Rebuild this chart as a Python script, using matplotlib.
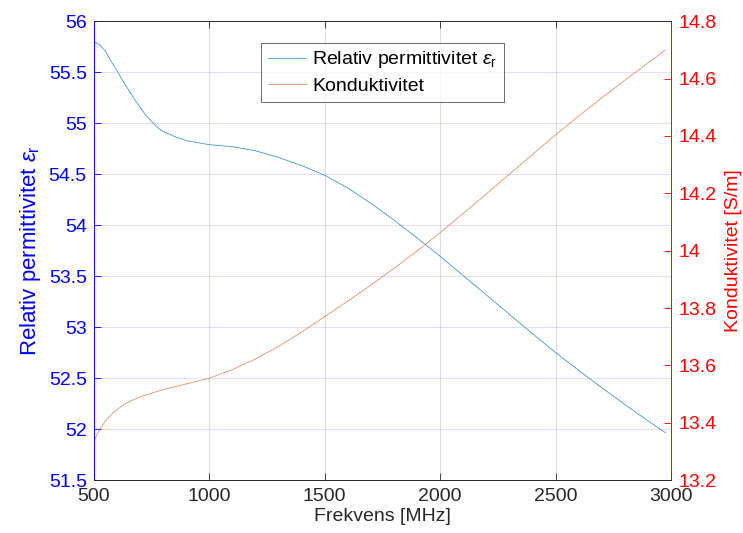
import matplotlib
matplotlib.use("Agg")
import matplotlib.pyplot as plt

freq_eps = [500, 525, 550, 575, 600, 625, 650, 675, 700, 725, 750, 775, 800,
            850, 900, 950, 1000, 1100, 1200, 1300, 1400, 1500, 1600, 1700,
            1800, 1900, 2000, 2100, 2200, 2300, 2400, 2500, 2600, 2700, 2800,
            2900, 2975]
eps_r = [55.80, 55.77, 55.71, 55.61, 55.52, 55.42, 55.33, 55.24, 55.16, 55.08,
         55.02, 54.96, 54.92, 54.87, 54.83, 54.81, 54.79, 54.77, 54.73, 54.665,
         54.585, 54.49, 54.365, 54.215, 54.05, 53.875, 53.695, 53.505, 53.315,
         53.125, 52.935, 52.75, 52.575, 52.405, 52.24, 52.08, 51.965]

freq_sig = [500, 512, 525, 550, 575, 600, 625, 650, 700, 750, 800, 900, 1000,
            1100, 1200, 1300, 1400, 1500, 1600, 1700, 1800, 1900, 2000, 2100,
            2200, 2300, 2400, 2500, 2600, 2700, 2800, 2900, 2975]
sigma = [13.33, 13.355, 13.375, 13.405, 13.428, 13.445, 13.46, 13.472, 13.49,
         13.503, 13.515, 13.535, 13.555, 13.585, 13.622, 13.666, 13.716, 13.77,
         13.824, 13.88, 13.938, 13.999, 14.063, 14.13, 14.198, 14.267, 14.336,
         14.404, 14.47, 14.533, 14.595, 14.655, 14.70]

xticks = [500, 1000, 1500, 2000, 2500, 3000]
lticks = [51.5, 52, 52.5, 53, 53.5, 54, 54.5, 55, 55.5, 56]
rticks = [13.2, 13.4, 13.6, 13.8, 14, 14.2, 14.4, 14.6, 14.8]

plt.rcParams["font.family"] = ["Liberation Sans", "DejaVu Sans"]
plt.rcParams["mathtext.fontset"] = "custom"
plt.rcParams["mathtext.it"] = "Liberation Sans:italic"
plt.rcParams["mathtext.rm"] = "Liberation Sans"

dark = "#262626"
fig = plt.figure(figsize=(7.43, 5.33), dpi=100)
ax = fig.add_axes([0.1261, 0.0994, 0.7772, 0.8606])
ax2 = ax.twinx()

l1, = ax.plot(freq_eps, eps_r, color="#0072BD", lw=0.55, alpha=0.8,
              label=r"Relativ permittivitet $\epsilon_{\mathrm{r}}$")
l2, = ax2.plot(freq_sig, sigma, color="#D95319", lw=0.55, alpha=0.7,
               label="Konduktivitet")

ax.set_xlim(500, 3000)
ax.set_ylim(51.5, 56)
ax2.set_ylim(13.2, 14.8)
ax.set_xticks(xticks)
ax.set_yticks(lticks)
ax.set_yticklabels([f"{v:g}" for v in lticks])
ax2.set_yticks(rticks)
ax2.set_yticklabels([f"{v:g}" for v in rticks])

# grid: horizontal lines bluish, vertical grey
for v in lticks[1:-1]:
    ax.axhline(v, color="#0000FF", alpha=0.12, lw=0.8, zorder=0)
for v in xticks[1:-1]:
    ax.axvline(v, color=dark, alpha=0.15, lw=0.8, zorder=0)

ax.tick_params(axis="x", direction="in", top=True, colors=dark,
               labelsize=14, length=5, width=0.6, pad=6)
ax.tick_params(axis="y", direction="in", colors="blue", labelsize=14,
               length=5, width=0.6, pad=5)
ax2.tick_params(axis="y", direction="in", colors="red", labelsize=14,
                length=5, width=0.6, pad=5)

for a in (ax, ax2):
    a.spines["top"].set_color(dark)
    a.spines["bottom"].set_color(dark)
    a.spines["left"].set_color("blue")
    a.spines["right"].set_color("red")
    for s in a.spines.values():
        s.set_linewidth(0.6)

ax.set_xlabel("Frekvens [MHz]", fontsize=14, color=dark, labelpad=2)
ax.set_ylabel(r"Relativ permittivitet $\epsilon_{\mathrm{r}}$", fontsize=16,
              color="blue", labelpad=4)
ax2.set_ylabel("Konduktivitet [S/m]", fontsize=14, color="red", labelpad=6)

leg = ax.legend(handles=[l1, l2], loc="upper center",
                bbox_to_anchor=(0.5, 0.975), fontsize=14, frameon=True,
                fancybox=False, edgecolor=dark, handlelength=2.0,
                handletextpad=0.3, borderpad=0.35, labelspacing=0.35)
leg.get_frame().set_linewidth(0.6)

fig.savefig("out.png", dpi=100)
